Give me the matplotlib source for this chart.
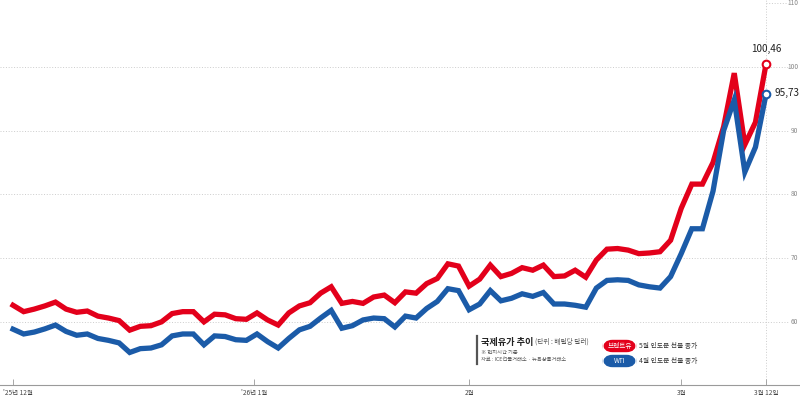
import numpy as np
import matplotlib
matplotlib.use("Agg")
import matplotlib.pyplot as plt
import matplotlib.transforms as mtransforms
from matplotlib.patches import FancyBboxPatch

plt.rcParams['font.family'] = ['Noto Sans CJK KR', 'DejaVu Sans']

# 브렌트유 / WTI 종가 (배럴당 달러), '25.12.1 ~ '26.3.12 거래일 기준
brent = [62.6, 61.6, 62.0, 62.5, 63.1, 62.0, 61.5, 61.7, 60.9, 60.6,
         60.2, 58.7, 59.3, 59.4, 60.0, 61.3, 61.6, 61.6, 60.0, 61.2,
         61.1, 60.5, 60.4, 61.4, 60.3, 59.5, 61.4, 62.5, 63.0, 64.5,
         65.5, 62.9, 63.2, 62.9, 63.9, 64.2, 63.0, 64.7, 64.5, 66.0,
         66.8, 69.1, 68.75, 65.6, 66.7, 68.9, 67.1, 67.6, 68.5, 68.1,
         68.9, 67.1, 67.2, 68.1, 67.0, 69.7, 71.4, 71.5, 71.25, 70.7,
         70.8, 71.0, 72.8, 77.8, 81.6, 81.6, 85.0, 90.6, 99.0, 87.8,
         91.3, 100.46]
wti = [58.85, 58.1, 58.4, 58.9, 59.5, 58.5, 57.9, 58.1, 57.4, 57.1,
       56.7, 55.2, 55.8, 55.9, 56.4, 57.8, 58.1, 58.1, 56.4, 57.8,
       57.7, 57.2, 57.1, 58.1, 56.9, 55.9, 57.4, 58.75, 59.3, 60.6,
       61.8, 59.0, 59.4, 60.3, 60.6, 60.5, 59.2, 60.9, 60.6, 62.1,
       63.2, 65.2, 64.9, 61.9, 62.8, 64.9, 63.3, 63.7, 64.4, 64.0,
       64.6, 62.8, 62.8, 62.6, 62.3, 65.3, 66.5, 66.6, 66.5, 65.8,
       65.5, 65.3, 67.1, 70.7, 74.6, 74.6, 80.5, 90.0, 94.8, 83.5,
       87.4, 95.73]

tick_pos = [0, 22.7, 43, 63, 71]
tick_labels = ["'25년 12월", "'26년 1월", "2월", "3월", "3월 12일"]
y_ticks = [60, 70, 80, 90, 100, 110]

red = '#e3001b'
blue = '#1b5ba8'
grid_c = '#cccccc'

x = np.arange(len(brent))

fig = plt.figure(figsize=(8, 3.97), dpi=100)
ax = fig.add_axes([0, 12 / 397, 1, 385 / 397])
ax.set_xlim(-1.23, 74.2)
ax.set_ylim(50.1, 110.47)

for s in ['top', 'left', 'right']:
    ax.spines[s].set_visible(False)
ax.spines['bottom'].set_color('#9a9a9a')
ax.spines['bottom'].set_linewidth(0.8)
ax.set_yticks([])
ax.set_xticks(tick_pos)
ax.set_xticklabels(tick_labels, fontsize=4.7, color='#444444')
ax.tick_params(axis='x', direction='in', length=4, width=0.6, color='#9a9a9a', pad=3)

# 첫 번째 라벨은 왼쪽 끝에 잘리지 않게
first = ax.get_xticklabels()[0]
first.set_ha('left')
first.set_transform(first.get_transform() + mtransforms.ScaledTranslation(-10 / 100, 0, fig.dpi_scale_trans))

# 가로 점선 눈금
for v in y_ticks:
    xmin = 0.958 if v == 110 else 0
    ax.axhline(v, xmin=xmin, xmax=0.985, color=grid_c, lw=0.7, ls=(0, (1, 1.8)), zorder=0)
    ax.text(0.998, v, str(v), transform=ax.get_yaxis_transform(), ha='right', va='center',
            fontsize=4.8, color='#888888')
ax.axvline(x[-1], color=grid_c, lw=0.7, ls=(0, (1, 1.8)), zorder=0)

ax.plot(x, brent, color=red, lw=3.8, solid_joinstyle='miter', zorder=3)
ax.plot(x, wti, color=blue, lw=3.8, solid_joinstyle='miter', zorder=4)
ax.plot(x[-1], brent[-1], 'o', ms=5.5, mfc='white', mec=red, mew=1.5, zorder=5)
ax.plot(x[-1], wti[-1], 'o', ms=5.5, mfc='white', mec=blue, mew=1.5, zorder=5)

ax.annotate(f"{brent[-1]:.2f}".replace('.', ','), (x[-1], brent[-1]), xytext=(0, 7),
            textcoords='offset points', ha='center', va='bottom', fontsize=7.2,
            color='#222222', fontweight='medium')
ax.annotate(f"{wti[-1]:.2f}".replace('.', ','), (x[-1], wti[-1]), xytext=(6, 1),
            textcoords='offset points', ha='left', va='center', fontsize=7.2,
            color='#222222', fontweight='medium')

# 범례 박스
W, H = 800, 397
def fx(px):
    return px / W
def fy(py):
    return 1 - py / H

fig.add_artist(plt.Line2D([fx(477), fx(477)], [fy(336), fy(364)], color='#555555', lw=1.6))
fig.text(fx(481), fy(342), "국제유가 추이", fontsize=6.6, fontweight='bold', color='#222222', va='center')
fig.text(fx(535), fy(342), "(단위 : 배럴당 달러)", fontsize=4.8, color='#555555', va='center')
fig.text(fx(481), fy(352), "※ 현지시간 기준", fontsize=3.8, color='#555555', va='center')
fig.text(fx(481), fy(360), "자료 : ICE선물거래소 · 뉴욕상품거래소", fontsize=3.8, color='#555555', va='center')

for cy, col, name, desc in [(346, red, "브렌트유", "5월 인도분 선물 종가"),
                            (361, blue, "WTI", "4월 인도분 선물 종가")]:
    pill = FancyBboxPatch((fx(606), fy(cy + 3)), fx(27), 6 / H,
                          boxstyle="round,pad=0.004,rounding_size=0.012",
                          transform=fig.transFigure, fc=col, ec='none',
                          mutation_aspect=W / H)
    fig.add_artist(pill)
    fig.text(fx(619.5), fy(cy), name, fontsize=4.8, color='white', ha='center', va='center')
    fig.text(fx(639), fy(cy), desc, fontsize=4.9, color='#333333', ha='left', va='center')

fig.savefig('out.png', dpi=100)
